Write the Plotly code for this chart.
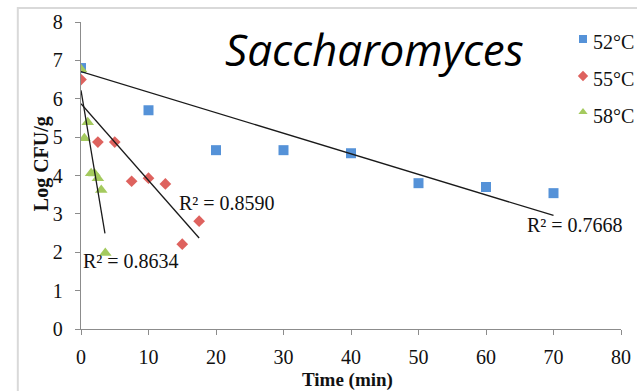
import plotly.graph_objects as go

# ---- data ----
t52 = [0, 10, 20, 30, 40, 50, 60, 70]
y52 = [6.8, 5.7, 4.66, 4.66, 4.58, 3.8, 3.7, 3.54]
t55 = [0, 2.5, 5, 7.5, 10, 12.5, 15, 17.5]
y55 = [6.5, 4.87, 4.87, 3.85, 3.93, 3.78, 2.21, 2.81]
t58 = [0, 0.5, 1, 1.5, 2, 2.5, 3, 3.6]
y58 = [6.77, 4.97, 5.39, 4.06, 4.05, 3.93, 3.62, 1.98]

series_names = ["52°C", "55°C", "58°C"]
trend_intercept = [6.71, 5.87, 6.22]
trend_slope = [-0.0536, -0.200, -1.05]
trend_end = [70, 17.5, 3.55]
r2_labels = ["R² = 0.7668", "R² = 0.8590", "R² = 0.8634"]
r2_pos = [(65.8, 2.71), (14.2, 3.28), (0.0, 1.77)]

x_ticks = [0, 10, 20, 30, 40, 50, 60, 70, 80]
y_ticks = [0, 1, 2, 3, 4, 5, 6, 7, 8]

colors = ["#5592D8", "#DE625E", "#A4CA5E"]
symbols = ["square", "diamond", "triangle-up"]
sizes = [10, 9, 11]

serif = "Liberation Serif"
FS = 20

fig = go.Figure()
for xs, ys, nm, c, s, sz in zip([t52, t55, t58], [y52, y55, y58], series_names, colors, symbols, sizes):
    fig.add_trace(go.Scatter(x=xs, y=ys, mode="markers", name=nm, showlegend=False,
                             marker=dict(symbol=s, size=sz, color=c, line=dict(width=0))))

for b, m, e in zip(trend_intercept, trend_slope, trend_end):
    xs = [0, e]
    fig.add_trace(go.Scatter(x=xs, y=[b + m * v for v in xs], mode="lines",
                             line=dict(color="#1a1a1a", width=1.3), showlegend=False,
                             hoverinfo="skip"))

for lab, (px, py) in zip(r2_labels, r2_pos):
    fig.add_annotation(x=px, y=py, text=lab, showarrow=False, xanchor="left", yanchor="middle",
                       font=dict(family=serif, size=FS, color="#111"))

# manual legend on a pixel-like overlay axis
leg_x = [583, 583, 583]
leg_y = [39, 76, 112]
leg_text_y = [42, 79, 116]
for nm, c, s, lx, ly, ty in zip(series_names, colors, symbols, leg_x, leg_y, leg_text_y):
    fig.add_trace(go.Scatter(x=[lx], y=[ly], xaxis="x2", yaxis="y2", mode="markers",
                             showlegend=False, hoverinfo="skip", cliponaxis=False,
                             marker=dict(symbol=s, size=8, color=c, line=dict(width=0))))
    fig.add_annotation(x=591, y=ty, xref="x2", yref="y2", text=nm, showarrow=False,
                       xanchor="left", yanchor="middle",
                       font=dict(family=serif, size=FS, color="#111"))

fig.add_annotation(x=0.5426, y=0.912, xref="paper", yref="paper", text="<i>Saccharomyces</i>",
                   showarrow=False, xanchor="center", yanchor="middle",
                   font=dict(family="Open Sans", size=44, color="#000"))

fig.add_annotation(x=-0.074, y=0.537, xref="paper", yref="paper", text="<b>Log CFU/g</b>",
                   textangle=-90, showarrow=False, xanchor="center", yanchor="middle",
                   font=dict(family=serif, size=FS, color="#111"))

fig.add_annotation(x=0.4935, y=-0.167, xref="paper", yref="paper", text="<b>Time (min)</b>",
                   showarrow=False, xanchor="center", yanchor="middle",
                   font=dict(family=serif, size=19, color="#111"))

# outer chart border
fig.add_shape(type="rect", xref="paper", yref="paper", x0=-0.117, x1=1.2, y0=-0.4, y1=1.0456,
              line=dict(color="#D9D9D9", width=2), fillcolor="rgba(0,0,0,0)", layer="below")

fig.update_layout(
    width=637, height=391,
    margin=dict(l=81, r=16, t=22, b=62, autoexpand=False),
    paper_bgcolor="white", plot_bgcolor="white",
    font=dict(family=serif, size=FS, color="#111"),
    showlegend=False,
    xaxis=dict(range=[0, 80], tickvals=x_ticks, showgrid=False, zeroline=False,
               showline=True, linecolor="#8C8C8C", linewidth=1.3, ticks="outside", ticklen=5,
               tickcolor="#8C8C8C", tickfont=dict(family=serif, size=FS, color="#111"),
               ticklabelstandoff=5),
    yaxis=dict(range=[0, 8], tickvals=y_ticks, showgrid=False, zeroline=False,
               showline=True, linecolor="#8C8C8C", linewidth=1.3, ticks="outside", ticklen=5,
               tickcolor="#8C8C8C", tickfont=dict(family=serif, size=FS, color="#111"),
               ticklabelstandoff=8),
    xaxis2=dict(range=[81, 621], overlaying="x", visible=False, fixedrange=True),
    yaxis2=dict(range=[329, 22], overlaying="y", visible=False, fixedrange=True),
)

fig.write_html("out.html")
